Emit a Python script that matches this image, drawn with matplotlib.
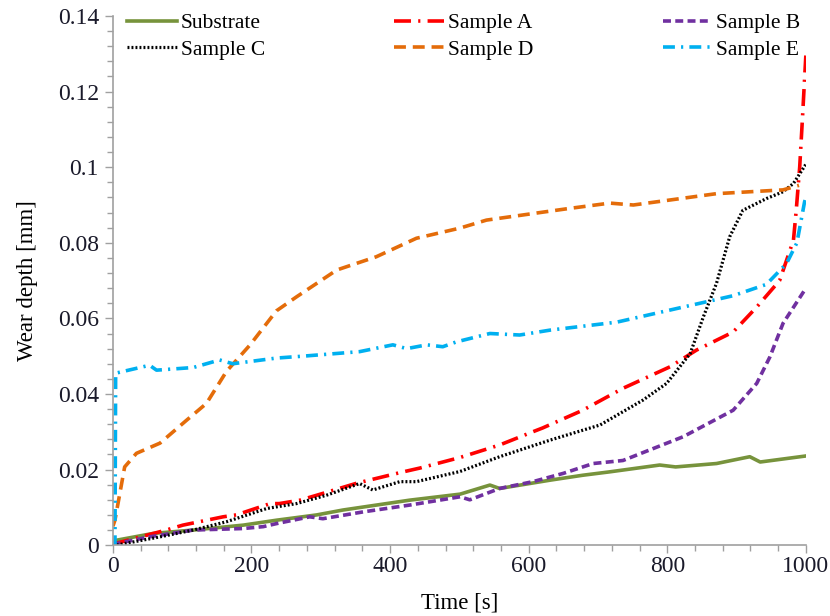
import numpy as np
import matplotlib
matplotlib.use("Agg")
import matplotlib.pyplot as plt
from matplotlib.ticker import MultipleLocator, FuncFormatter

plt.rcParams['font.family'] = ['Liberation Serif', 'DejaVu Serif']

# (time [s], wear depth [mm])
t_sub = [0, 5, 58, 116, 188, 236, 294, 332, 380, 428, 501, 544, 558, 631, 678, 717, 789, 812, 871, 919, 934, 1000]
d_sub = [0.0005, 0.0013, 0.0031, 0.004, 0.0053, 0.0066, 0.008, 0.0093, 0.0106, 0.0119, 0.0135, 0.0159, 0.015, 0.0172, 0.0185, 0.0194, 0.0212, 0.0207, 0.0216, 0.0234, 0.022, 0.0236]

t_a = [0, 5, 77, 101, 159, 178, 227, 240, 270, 294, 352, 419, 443, 501, 558, 606, 620, 678, 736, 804, 842, 895, 929, 962, 982, 986, 991, 995, 1000]
d_a = [0, 0.0005, 0.004, 0.0053, 0.0075, 0.008, 0.011, 0.011, 0.0119, 0.0132, 0.0164, 0.0194, 0.0204, 0.0232, 0.0265, 0.030, 0.031, 0.0357, 0.0415, 0.0472, 0.0516, 0.0564, 0.063, 0.070, 0.0807, 0.0886, 0.100, 0.113, 0.130]

t_b = [0, 5, 53, 116, 188, 217, 236, 284, 303, 361, 428, 501, 515, 558, 606, 650, 693, 736, 823, 895, 929, 948, 967, 1000]
d_b = [0, 0.0004, 0.0022, 0.004, 0.0044, 0.0049, 0.0057, 0.0075, 0.007, 0.0088, 0.0106, 0.0128, 0.012, 0.015, 0.0168, 0.019, 0.0216, 0.0224, 0.0287, 0.0357, 0.0428, 0.0498, 0.0587, 0.068]

t_c = [0, 5, 68, 116, 164, 222, 265, 308, 356, 375, 414, 438, 501, 558, 631, 703, 765, 799, 833, 852, 871, 890, 909, 943, 967, 982, 1000]
d_c = [0, 0, 0.0022, 0.004, 0.0062, 0.0097, 0.011, 0.0132, 0.0163, 0.0146, 0.0168, 0.0168, 0.0195, 0.0234, 0.0278, 0.0318, 0.0384, 0.0428, 0.0507, 0.0604, 0.0693, 0.0816, 0.0886, 0.0917, 0.0935, 0.0957, 0.1008]

t_d = [0, 3, 17, 34, 68, 106, 135, 164, 198, 236, 265, 323, 380, 438, 501, 539, 655, 717, 751, 871, 967, 990]
d_d = [0.005, 0.0066, 0.0207, 0.0243, 0.027, 0.033, 0.0375, 0.046, 0.053, 0.062, 0.0657, 0.0728, 0.0763, 0.0812, 0.0839, 0.086, 0.089, 0.0905, 0.090, 0.093, 0.094, 0.0952]

t_e = [0, 3, 4, 53, 63, 116, 154, 173, 236, 274, 356, 404, 424, 453, 476, 496, 544, 587, 631, 727, 799, 895, 943, 972, 987, 998, 1000]
d_e = [0, 0.0, 0.0455, 0.0476, 0.0463, 0.047, 0.049, 0.048, 0.0495, 0.050, 0.0512, 0.053, 0.052, 0.053, 0.0525, 0.0538, 0.056, 0.0556, 0.0569, 0.059, 0.062, 0.066, 0.069, 0.0745, 0.080, 0.0908, 0.092]

fig = plt.figure(figsize=(8.3, 6.16), dpi=100)
ax = fig.add_axes([0.136, 0.115, 0.835, 0.859])

lw = 2.6
l1, = ax.plot(t_sub, d_sub, color='#77933C', lw=lw, label='Substrate')
l2, = ax.plot(t_a, d_a, color='#FF0000', lw=lw, dashes=(4.7, 2.0, 0.6, 2.0), label='Sample A')
l3, = ax.plot(t_b, d_b, color='#7030A0', lw=lw, dashes=(2.2, 1.2), label='Sample B')
l4, = ax.plot(t_c, d_c, color='black', lw=2.3, dashes=(0.6, 0.65), label='Sample C')
l5, = ax.plot(t_d, d_d, color='#E46C0A', lw=lw, dashes=(3.3, 1.9), label='Sample D')
l6, = ax.plot(t_e, d_e, color='#00B0F0', lw=lw, dashes=(3.3, 1.7, 0.6, 1.7), label='Sample E')

ax.set_xlim(0, 1000)
ax.set_ylim(0, 0.14)
ax.xaxis.set_major_locator(MultipleLocator(200))
ax.xaxis.set_minor_locator(MultipleLocator(40))
ax.yaxis.set_major_locator(MultipleLocator(0.02))
ax.yaxis.set_minor_locator(MultipleLocator(0.004))
ax.yaxis.set_major_formatter(FuncFormatter(lambda v, p: '0' if abs(v) < 1e-9 else ('%.2f' % v).rstrip('0')))

for s in ['top', 'right']:
    ax.spines[s].set_visible(False)
for s in ['left', 'bottom']:
    ax.spines[s].set_color('#A0A0A0')
    ax.spines[s].set_linewidth(1.2)
ax.tick_params(which='both', color='#A0A0A0', width=1, labelsize=17, labelcolor='#1a1a2a')
ax.tick_params(which='major', length=6)
ax.tick_params(which='minor', length=4)
ax.tick_params(axis='x', which='major', pad=2)
ax.tick_params(axis='y', which='major', pad=4)

ax.set_xlabel('Time [s]', fontsize=16.5, labelpad=11)
ax.set_ylabel('Wear depth [mm]', fontsize=16.5, labelpad=14)

# row order in the reference: Substrate, A, B / C, D, E (legend fills column-wise)
fig.legend(handles=[l1, l4, l2, l5, l3, l6], ncol=3, frameon=False, fontsize=15.5,
           loc='upper left', bbox_to_anchor=(127 / 830, 1 - 13 / 616),
           bbox_transform=fig.transFigure, borderpad=0, borderaxespad=0,
           handlelength=2.3, handletextpad=0.2, columnspacing=6.0, labelspacing=0.3)

fig.savefig('out.png', dpi=100)
plt.close(fig)
